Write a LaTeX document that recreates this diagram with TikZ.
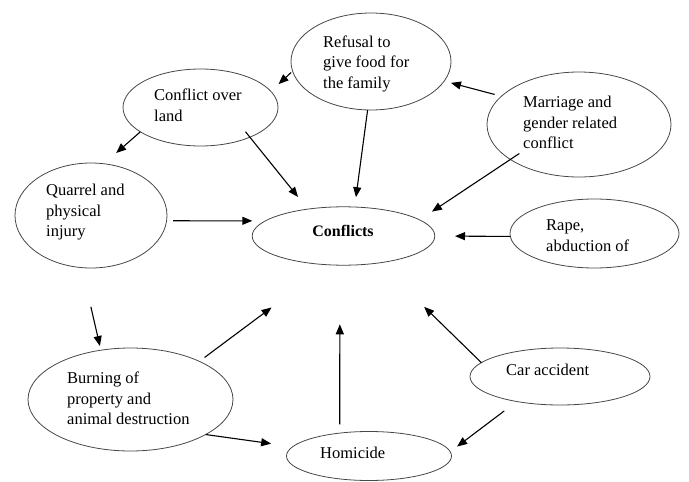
\documentclass[tikz,border=0pt]{standalone}
\usepackage{fontspec}
\setmainfont{Liberation Serif}
\usetikzlibrary{shapes.geometric,arrows.meta}
\tikzset{
  ell/.style={ellipse, draw=black!72, line width=0.8pt, inner sep=0pt, outer sep=0pt},
  txt/.style={font=\fontsize{16.5}{20.5}\selectfont, align=left, inner sep=0pt, anchor=west},
  arr/.style={line width=1.1pt, -{Triangle[length=10pt,width=8pt]}}
}
\begin{document}
\begin{tikzpicture}[x=1pt,y=-1pt]
\useasboundingbox (0,0) rectangle (689,482);
% ellipses
\node[ell, minimum width=160pt, minimum height=97pt] (ref) at (371,61.5) {};
\node[ell, minimum width=155pt, minimum height=77pt] (land) at (200.5,107.5) {};
\node[ell, minimum width=184pt, minimum height=105pt] (mar) at (579,124.5) {};
\node[ell, minimum width=152pt, minimum height=105pt] (quar) at (91,215.5) {};
\node[ell, minimum width=182.6pt, minimum height=58.4pt] (conf) at (343.5,236) {};
\node[ell, minimum width=169pt, minimum height=69pt] (rape) at (594.5,233.5) {};
\node[ell, minimum width=205pt, minimum height=103pt] (burn) at (130.5,399.5) {};
\node[ell, minimum width=180pt, minimum height=57pt] (car) at (560,376.5) {};
\node[ell, minimum width=165pt, minimum height=49pt] (hom) at (369,456) {};
% texts
\node[txt] (reft) at (323,63.5) {Refusal to\\give food for\\the family};
\node[txt] (landt) at (154,105.5) {Conflict over\\land};
\node[txt] (mart) at (523,122.5) {Marriage and\\gender related\\conflict};
\node[txt] (quart) at (46,212.5) {Quarrel and\\physical\\injury};
\node[txt, anchor=center, font=\fontsize{16}{20}\selectfont\bfseries] (conft) at (343,230.5) {Conflicts};
\node[txt] (rapet) at (546,235.5) {Rape,\\abduction of};
\node[txt] (burnt) at (67,398.5) {Burning of\\property and\\animal destruction};
\node[txt] (cart) at (506,369.5) {Car accident};
\node[txt] (homt) at (320,452.5) {Homicide};
% arrows
\draw[arr, shorten <=2pt, shorten >=10.6pt] (ref.187) -- (land.13);
\draw[arr, shorten >=16.3pt] (land.202) -- (quar.76);
\draw[arr, shorten <=-7pt, shorten >=15.6pt] (land.329) -- (conf.143);
\draw[arr, shorten <=6.4pt, shorten >=13.2pt] (quar.356) -- (conf.169);
\draw[arr, shorten >=9.9pt] (ref.266) -- (conf.69);
\draw[arr, shorten <=7pt, shorten >=7pt] (mar.160) -- (ref.345);
\draw[arr, shorten <=-10.8pt, shorten >=14.9pt] (mar.207) -- (conf.12);
\draw[arr, shorten >=20.2pt] (rape.182) -- (conf.east);
\draw[arr, shorten <=40.2pt, shorten >=4.3pt] (quar.260) -- (burn.121);
\draw[arr, shorten <=6.5pt, shorten >=71.4pt] (burn.29) -- (conf.243);
\draw[arr, shorten <=8.8pt, shorten >=59.1pt] (hom.142) -- (conf.263);
\draw[arr, shorten >=21.8pt] (burn.335) -- (hom.173);
\draw[arr, shorten >=62.9pt] (car.170) -- (conf.323);
\draw[arr, shorten <=15.7pt, shorten >=8.6pt] (car.210) -- (hom.3);
\end{tikzpicture}
\end{document}
